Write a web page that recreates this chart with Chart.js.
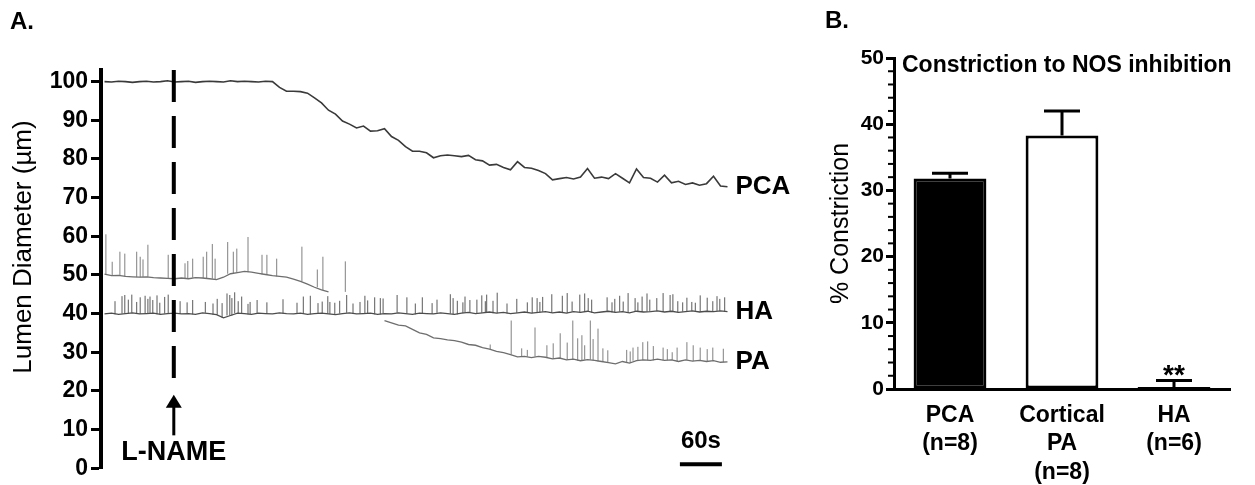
<!DOCTYPE html>
<html>
<head>
<meta charset="utf-8">
<script src="https://cdn.jsdelivr.net/npm/chart.js@4.4.1/dist/chart.umd.min.js"></script>
<style>
  body { margin: 0; background: #fff; }
  #wrap { position: relative; width: 1255px; height: 485px; }
  .panel { position: absolute; top: 0; height: 485px; }
  #panelA { left: 0; width: 800px; }
  #panelB { left: 800px; width: 455px; }
</style>
</head>
<body>
<div id="wrap">
  <div class="panel" id="panelA"><canvas id="traceChart"></canvas></div>
  <div class="panel" id="panelB"><canvas id="barChart"></canvas></div>
</div>
<script>
const FONT = '"Liberation Sans", Arial, Helvetica, sans-serif';

// ---------- panel A: lumen diameter traces (time in s, diameter in µm) ----------
const sampleStep = 10;

const pcaStart = 5;
const pcaDiameter = [
  100.0, 99.9, 100.1, 100.0, 99.8, 100.0, 100.1, 99.9, 100.0, 100.2,
  99.9, 100.0, 100.1, 99.8, 100.0, 100.1, 100.0, 99.9, 100.2, 100.0,
  100.1, 100.0, 99.9, 100.1, 100.0,
  98.5, 97.5, 97.5, 97.4, 97.0, 95.8, 94.5, 92.6, 91.6, 89.8,
  89.0, 88.0, 88.5, 87.2, 87.3, 87.8, 85.8, 84.8, 83.2, 82.0,
  82.0, 81.6, 80.3, 80.8, 81.0, 80.8, 80.6, 80.9, 79.8, 79.5,
  78.4, 78.6, 77.8, 77.2, 79.3, 77.8, 77.6, 77.0, 76.2, 74.6,
  74.9, 75.2, 74.8, 75.3, 77.5, 75.0, 75.3, 74.9, 76.2, 75.0,
  73.8, 77.4, 75.2, 75.0, 74.0, 75.8, 73.8, 74.2, 73.4, 73.8,
  73.2, 73.6, 75.5, 73.0, 72.8
];

const haStart = 5;
const haDiameter = [
  39.9, 40.1, 39.8, 40.0, 40.2, 39.9, 40.0, 40.1, 39.8, 40.0,
  40.1, 39.9, 40.0, 39.8, 40.2, 40.0, 39.7, 38.9, 39.5, 40.1,
  40.0, 39.8, 40.1, 40.0, 39.9, 40.2, 40.0, 39.9, 40.1, 39.8,
  40.0, 40.1, 39.9, 39.7, 40.0, 40.2, 39.9, 40.0, 40.1, 39.8,
  40.0, 39.9, 40.2, 40.0, 39.8, 40.1, 40.0, 39.9, 40.2, 40.0,
  39.8, 40.1, 40.3, 40.0, 40.2, 40.4, 40.1, 40.3, 40.0, 40.2,
  40.4, 40.1, 40.3, 40.5, 40.2, 40.4, 40.1, 40.5, 40.3, 40.6,
  40.2, 40.4, 40.6, 40.3, 40.5, 40.2, 40.6, 40.4, 40.5, 40.7,
  40.4, 40.6, 40.3, 40.5, 40.7, 40.4, 40.6, 40.5, 40.7, 40.5
];
const haSpikeTimes = [
  20, 30, 34, 39, 44, 51, 56, 63, 67, 70, 74, 80, 84, 91, 96, 113, 123, 131, 149, 160,
  166, 173, 180, 184, 187, 191, 196, 201, 210, 213, 223, 237, 260, 280, 289, 299, 310, 316, 324, 327,
  334, 341, 351, 360, 370, 377, 381, 391, 399, 403, 423, 437, 449, 459, 473, 480, 499, 503, 509, 517,
  520, 527, 537, 544, 549, 551, 560, 566, 580, 594, 609, 616, 623, 627, 631, 644, 659, 666, 673, 684,
  691, 696, 701, 723, 730, 734, 741, 746, 753, 763, 767, 773, 780, 784, 794, 803, 813, 817, 824, 831,
  837, 844, 849, 856, 866, 874, 880, 884, 891
];
const haSpikePeaks = [
  43.2, 44.5, 44.8, 43.6, 44.9, 43.0, 44.2, 44.6, 43.8, 44.4,
  43.5, 44.7, 42.8, 44.3, 44.9, 43.2, 42.9, 43.5, 43.0, 42.6,
  43.8, 42.7, 45.2, 44.8, 44.0, 45.5, 43.2, 44.4, 42.5, 43.0,
  43.5, 42.9, 43.7, 42.8, 44.4, 44.6, 42.7, 43.1, 44.5, 43.0,
  42.8, 43.3, 44.8, 42.6, 43.0, 44.6, 43.4, 44.2, 44.0, 43.9,
  44.8, 44.2, 42.6, 44.2, 42.7, 43.6, 45.0, 44.0, 43.3, 42.9,
  44.4, 43.5, 43.6, 44.7, 43.2, 44.9, 43.3, 45.4, 42.6, 43.8,
  42.9, 44.2, 44.0, 43.0, 44.3, 45.0, 44.6, 45.3, 43.1, 44.9,
  45.2, 44.0, 43.6, 44.2, 42.9, 43.8, 44.6, 43.1, 45.3, 44.0,
  42.9, 44.4, 45.2, 43.6, 44.0, 45.3, 44.8, 45.0, 43.2, 42.9,
  44.1, 43.0, 42.8, 44.7, 44.1, 43.2, 44.5, 43.8, 44.2
];

// PA: first segment near 50 µm, then recording resumes lower after ~400 s
const paEarlyStart = 5;
const paEarlyDiameter = [
  50.2, 49.8, 49.9, 49.6, 49.5, 49.4, 49.5, 49.3, 49.2, 49.1,
  49.0, 49.2, 49.0, 49.3, 49.2, 49.0, 48.8, 49.4, 50.3, 50.6,
  50.9, 50.7, 50.4, 50.1, 49.8, 49.6, 49.4, 48.9, 48.3, 47.6,
  46.8, 46.1, 45.6
];
const paEarlySpikeTimes = [7, 16, 27, 34, 51, 56, 60, 67, 96, 120, 124, 131, 146, 151, 159, 163, 181, 189, 194, 210, 230, 237, 251, 287, 309, 317, 349];
const paEarlySpikePeaks = [60.5, 53.4, 56.0, 55.5, 56.0, 54.7, 54.0, 57.8, 55.2, 53.0, 53.6, 54.2, 54.7, 56.0, 58.0, 54.2, 58.5, 56.0, 56.8, 59.8, 55.2, 55.2, 54.2, 57.3, 51.4, 54.7, 53.5];

const paLateStart = 405;
const paLateDiameter = [
  38.2, 37.6, 37.0, 36.8, 35.9, 35.0, 34.6, 33.7, 33.5, 33.2,
  33.0, 32.6, 32.0, 31.8, 31.2, 30.8, 30.2, 29.9, 29.4, 28.8,
  28.9, 28.6, 28.9, 28.7, 28.3, 28.5, 28.0, 28.2, 27.8, 28.1,
  27.9, 27.6, 27.3, 27.0, 27.6, 27.2, 27.8, 28.0, 27.9, 28.2,
  27.9, 28.0, 27.6, 28.0, 27.7, 27.9, 27.6, 27.8, 27.4, 27.5
];
const paLateSpikeTimes = [556, 586, 601, 609, 620, 637, 646, 656, 666, 674, 681, 687, 691, 699, 703, 710, 717, 724, 751, 756, 760, 767, 774, 781, 789, 803, 809, 816, 823, 837, 846, 856, 866, 874, 889];
const paLateSpikePeaks = [32.0, 38.2, 31.0, 30.6, 36.4, 31.8, 32.3, 34.9, 32.5, 38.2, 33.6, 34.4, 31.8, 38.2, 33.4, 36.1, 31.0, 30.5, 30.6, 30.2, 31.2, 31.4, 32.6, 32.8, 31.6, 31.2, 30.8, 30.0, 31.2, 32.6, 31.8, 31.2, 30.8, 31.2, 30.9];

const diameterTicks = [0, 10, 20, 30, 40, 50, 60, 70, 80, 90, 100];
const lnameTime = 104;       // L-NAME added
const scaleBarStart = 827;
const scaleBarLength = 60;   // "60s"

// ---------- panel B: constriction to NOS inhibition ----------
const vesselLabels = [['PCA', '(n=8)'], ['Cortical', 'PA', '(n=8)'], ['HA', '(n=6)']];
const constrictionMean = [31.8, 38.3, 0.3];
const constrictionSem = [0.8, 3.7, 1.0];
const significance = ['', '', '**'];

// build {x,y} points from evenly sampled values
function series(start, values) {
  return values.map((v, i) => ({ x: start + i * sampleStep, y: v }));
}
// vertical spike segments rising from the nearest baseline sample
function spikes(times, peaks, start, base) {
  const pts = [];
  times.forEach((t, i) => {
    let k = Math.round((t - start) / sampleStep);
    k = Math.max(0, Math.min(base.length - 1, k));
    pts.push({ x: t, y: base[k] }, { x: t, y: peaks[i] }, { x: t, y: null });
  });
  return pts;
}

const lineDefaults = { pointRadius: 0, fill: false, tension: 0, spanGaps: false, clip: false };
const traceSets = [
  { label: 'PCA', data: series(pcaStart, pcaDiameter), borderColor: '#3a3a3a', borderWidth: 1.6, ...lineDefaults },
  { label: 'HA', data: series(haStart, haDiameter), borderColor: '#4d4d4d', borderWidth: 1.3, ...lineDefaults },
  { label: 'HA spikes', data: spikes(haSpikeTimes, haSpikePeaks, haStart, haDiameter), borderColor: '#5a5a5a', borderWidth: 1, ...lineDefaults },
  { label: 'PA', data: series(paEarlyStart, paEarlyDiameter), borderColor: '#6e6e6e', borderWidth: 1.3, ...lineDefaults },
  { label: 'PA spikes', data: spikes(paEarlySpikeTimes, paEarlySpikePeaks, paEarlyStart, paEarlyDiameter), borderColor: '#808080', borderWidth: 1, ...lineDefaults },
  { label: 'PA', data: series(paLateStart, paLateDiameter), borderColor: '#6e6e6e', borderWidth: 1.3, ...lineDefaults },
  { label: 'PA spikes', data: spikes(paLateSpikeTimes, paLateSpikePeaks, paLateStart, paLateDiameter), borderColor: '#808080', borderWidth: 1, ...lineDefaults }
];
const traceNames = [[0, 'PCA'], [1, 'HA'], [5, 'PA']];

const panelADecor = {
  id: 'panelADecor',
  afterDatasetsDraw(chart) {
    const { ctx, chartArea, scales: { x, y } } = chart;
    ctx.save();
    ctx.fillStyle = '#000';
    ctx.strokeStyle = '#000';

    ctx.font = 'bold 24px ' + FONT;
    ctx.textAlign = 'left';
    ctx.textBaseline = 'middle';
    ctx.fillText('A.', 10, 22);

    // y axis title
    ctx.save();
    ctx.translate(24, 247);
    ctx.rotate(-Math.PI / 2);
    ctx.textAlign = 'center';
    ctx.font = '26px ' + FONT;
    ctx.fillText('Lumen Diameter (µm)', 0, 0);
    ctx.restore();

    // L-NAME marker
    const lx = x.getPixelForValue(lnameTime);
    ctx.lineWidth = 4;
    ctx.setLineDash([32, 14]);
    ctx.beginPath();
    ctx.moveTo(lx, chartArea.top);
    ctx.lineTo(lx, y.getPixelForValue(20));
    ctx.stroke();
    ctx.setLineDash([]);
    const tip = y.getPixelForValue(19);
    ctx.lineWidth = 3;
    ctx.beginPath();
    ctx.moveTo(lx, y.getPixelForValue(8.5));
    ctx.lineTo(lx, tip + 10);
    ctx.stroke();
    ctx.beginPath();
    ctx.moveTo(lx, tip);
    ctx.lineTo(lx - 8, tip + 13);
    ctx.lineTo(lx + 8, tip + 13);
    ctx.closePath();
    ctx.fill();
    ctx.font = 'bold 27px ' + FONT;
    ctx.textAlign = 'center';
    ctx.fillText('L-NAME', lx, chartArea.bottom - 16);

    // trace names at the end of each trace
    ctx.font = 'bold 26px ' + FONT;
    ctx.textAlign = 'left';
    traceNames.forEach(([idx, name]) => {
      const pts = chart.data.datasets[idx].data;
      const last = pts[pts.length - 1];
      ctx.fillText(name, x.getPixelForValue(last.x) + 8, y.getPixelForValue(last.y));
    });

    // time scale bar
    const x0 = x.getPixelForValue(scaleBarStart);
    const x1 = x.getPixelForValue(scaleBarStart + scaleBarLength);
    ctx.lineWidth = 4;
    ctx.beginPath();
    ctx.moveTo(x0, chartArea.bottom - 4);
    ctx.lineTo(x1, chartArea.bottom - 4);
    ctx.stroke();
    ctx.font = 'bold 24px ' + FONT;
    ctx.textAlign = 'center';
    ctx.fillText('60s', (x0 + x1) / 2, chartArea.bottom - 27);
    ctx.restore();
  }
};

new Chart(document.getElementById('traceChart'), {
  type: 'line',
  data: { datasets: traceSets },
  options: {
    responsive: true,
    maintainAspectRatio: false,
    animation: false,
    layout: { padding: { left: 0, top: 70, right: 27, bottom: 10 } },
    plugins: { legend: { display: false }, tooltip: { enabled: false } },
    scales: {
      x: { type: 'linear', display: false, min: 0, max: 960 },
      y: {
        min: 0,
        max: 103,
        afterFit: s => { s.width = 101; },
        afterBuildTicks: s => { s.ticks = diameterTicks.map(v => ({ value: v })); },
        ticks: { font: { family: FONT, size: 23, weight: 'bold' }, color: '#000', padding: 3 },
        grid: { drawOnChartArea: false, tickLength: 10, tickWidth: 3, tickColor: '#000' },
        border: { color: '#000', width: 4 }
      }
    }
  },
  plugins: [panelADecor]
});

const panelBDecor = {
  id: 'panelBDecor',
  afterDatasetsDraw(chart) {
    const { ctx, chartArea, scales: { x, y } } = chart;
    ctx.save();
    ctx.fillStyle = '#000';
    ctx.strokeStyle = '#000';

    // minor ticks every 2 %
    ctx.lineWidth = 2;
    for (let v = 2; v < 50; v += 2) {
      if (v % 10 === 0) continue;
      const py = y.getPixelForValue(v);
      ctx.beginPath();
      ctx.moveTo(chartArea.left - 6, py);
      ctx.lineTo(chartArea.left, py);
      ctx.stroke();
    }

    // SEM bars and significance marks
    ctx.lineWidth = 3;
    constrictionMean.forEach((m, i) => {
      const cx = x.getPixelForValue(i);
      const y0 = y.getPixelForValue(m);
      const y1 = y.getPixelForValue(m + constrictionSem[i]);
      ctx.beginPath();
      ctx.moveTo(cx, y0);
      ctx.lineTo(cx, y1);
      ctx.moveTo(cx - 18, y1);
      ctx.lineTo(cx + 18, y1);
      ctx.stroke();
      if (significance[i]) {
        ctx.font = 'bold 28px ' + FONT;
        ctx.textAlign = 'center';
        ctx.textBaseline = 'alphabetic';
        ctx.fillText(significance[i], cx, y1 + 4);
      }
    });

    ctx.textBaseline = 'middle';
    ctx.textAlign = 'left';
    ctx.font = 'bold 23px ' + FONT;
    ctx.fillText('Constriction to NOS inhibition', chartArea.left + 8, chartArea.top + 8);
    ctx.font = 'bold 24px ' + FONT;
    ctx.fillText('B.', 25, 21);
    ctx.restore();
  }
};

new Chart(document.getElementById('barChart'), {
  type: 'bar',
  data: {
    labels: vesselLabels,
    datasets: [{
      data: constrictionMean,
      backgroundColor: ['#000', '#fff', '#fff'],
      borderColor: '#000',
      borderWidth: 3,
      borderSkipped: false,
      barPercentage: 0.65,
      categoryPercentage: 1
    }]
  },
  options: {
    responsive: true,
    maintainAspectRatio: false,
    animation: false,
    layout: { padding: { left: 0, top: 58, right: 25, bottom: 0 } },
    plugins: { legend: { display: false }, tooltip: { enabled: false } },
    scales: {
      x: {
        afterFit: s => { s.height = 96; },
        grid: { drawOnChartArea: false, drawTicks: false },
        border: { color: '#000', width: 3 },
        ticks: { font: { family: FONT, size: 23, weight: 'bold', lineHeight: 1.25 }, color: '#000', padding: 12, maxRotation: 0, autoSkip: false }
      },
      y: {
        min: 0,
        max: 50,
        afterFit: s => { s.width = 94; },
        ticks: { stepSize: 10, font: { family: FONT, size: 21, weight: 'bold' }, color: '#000', padding: 2 },
        grid: { drawOnChartArea: false, tickLength: 8, tickWidth: 3, tickColor: '#000' },
        border: { color: '#000', width: 3 },
        title: { display: true, text: '% Constriction', font: { family: FONT, size: 25 }, color: '#000', padding: { top: 26, bottom: 0 } }
      }
    }
  },
  plugins: [panelBDecor]
});
</script>
</body>
</html>
